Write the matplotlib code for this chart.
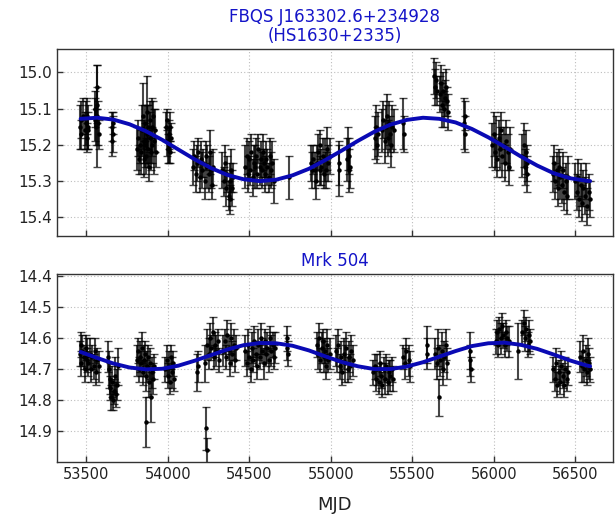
import matplotlib
matplotlib.use("Agg")
import matplotlib.pyplot as plt
import numpy as np

# ---------------- Top panel: FBQS J163302.6+234928 ----------------
mjd_top = [53462, 53466, 53470, 53478, 53490, 53497, 53502, 53505, 53508, 53512,
           53552, 53556, 53560, 53563, 53565, 53568, 53572, 53575,
           53655, 53658, 53661, 53663,
           53810, 53815, 53822, 53830, 53838, 53843, 53848, 53852, 53855, 53858,
           53862, 53866, 53870, 53873, 53876, 53880, 53884, 53888, 53892, 53896,
           53900, 53905, 53910, 53915, 53920, 53925,
           53988, 53992, 53996, 54000, 54004, 54008, 54012, 54016, 54020,
           54155, 54162, 54170, 54178, 54186, 54194, 54202, 54210, 54218, 54226,
           54234, 54242, 54250, 54258, 54265, 54272, 54278,
           54335, 54342, 54350, 54358, 54365, 54372, 54378, 54384, 54390, 54396, 54402,
           54475, 54483, 54490, 54498, 54505, 54512, 54520, 54527, 54534, 54541,
           54548, 54555, 54562, 54569, 54576, 54583, 54590, 54597, 54604, 54611,
           54618, 54625, 54632, 54640, 54648,
           54742,
           54875, 54882, 54888, 54900, 54908, 54915, 54922, 54930, 54936, 54942,
           54950, 54958, 54966, 54972, 54978, 54985, 54992,
           55048, 55052,
           55098, 55103, 55108, 55113, 55118,
           55268, 55274, 55280, 55286,
           55315, 55322, 55330, 55337, 55344, 55350, 55357, 55364, 55370, 55377, 55384,
           55445, 55447,
           55635, 55640, 55645, 55650, 55672, 55678, 55684, 55690, 55696, 55702, 55708, 55714, 55720,
           55818, 55822, 55825,
           55990, 55998, 56005, 56012, 56020, 56028, 56036, 56044, 56052, 56060,
           56068, 56076, 56084, 56092, 56100,
           56175, 56182, 56188, 56194, 56200, 56205,
           56360, 56368, 56376, 56384, 56392, 56400, 56408, 56416, 56424, 56432,
           56440, 56448, 56456,
           56500, 56508, 56516, 56524, 56532, 56540, 56548, 56556, 56564, 56572,
           56580, 56588]
mag_top = [15.15, 15.13, 15.17, 15.12, 15.16, 15.14, 15.18, 15.12, 15.15, 15.16,
           15.13, 15.10, 15.15, 15.04, 15.12, 15.09, 15.14, 15.17,
           15.15, 15.19, 15.17, 15.14,
           15.21, 15.18, 15.24, 15.20, 15.22, 15.16, 15.12, 15.19, 15.24, 15.14,
           15.20, 15.23, 15.17, 15.11, 15.21, 15.15, 15.26, 15.18, 15.13, 15.22,
           15.15, 15.20, 15.12, 15.19, 15.16, 15.22,
           15.15, 15.19, 15.13, 15.21, 15.17, 15.20, 15.15, 15.22, 15.18,
           15.26, 15.23, 15.28, 15.25, 15.22, 15.29, 15.24, 15.27, 15.25, 15.30,
           15.23, 15.26, 15.28, 15.22, 15.27, 15.31, 15.26,
           15.27, 15.30, 15.25, 15.32, 15.28, 15.34, 15.30, 15.35, 15.27, 15.32, 15.29,
           15.26, 15.23, 15.28, 15.24, 15.27, 15.22, 15.29, 15.25, 15.26, 15.23,
           15.28, 15.21, 15.26, 15.24, 15.27, 15.22, 15.25, 15.28, 15.24, 15.26,
           15.29, 15.23, 15.27, 15.25, 15.30,
           15.29,
           15.25, 15.27, 15.24, 15.27, 15.30, 15.25, 15.22, 15.27, 15.20, 15.26,
           15.23, 15.28, 15.24, 15.27, 15.21, 15.25, 15.23,
           15.27, 15.25,
           15.24, 15.21, 15.27, 15.23, 15.26,
           15.18, 15.15, 15.20, 15.17,
           15.16, 15.13, 15.19, 15.15, 15.12, 15.18, 15.14, 15.17, 15.20, 15.15, 15.16,
           15.14, 15.17,
           15.01, 15.04, 15.02, 15.05, 15.06, 15.03, 15.09, 15.05, 15.10, 15.07, 15.04, 15.08, 15.11,
           15.14, 15.17, 15.12,
           15.20, 15.17, 15.22, 15.19, 15.24, 15.18, 15.21, 15.16, 15.23, 15.20,
           15.25, 15.19, 15.22, 15.26, 15.21,
           15.23, 15.20, 15.26, 15.22, 15.28, 15.25,
           15.28, 15.25, 15.30, 15.27, 15.32, 15.26, 15.29, 15.31, 15.27, 15.33,
           15.30, 15.34, 15.29,
           15.30, 15.33, 15.29, 15.35, 15.31, 15.36, 15.32, 15.34, 15.30, 15.37,
           15.33, 15.35]
err_top = [0.06, 0.05, 0.04, 0.05, 0.05, 0.06, 0.04, 0.05, 0.06, 0.05,
           0.06, 0.05, 0.05, 0.06, 0.14, 0.05, 0.06, 0.04,
           0.04, 0.04, 0.05, 0.03,
           0.06, 0.05, 0.04, 0.05, 0.06, 0.07, 0.09, 0.06, 0.05, 0.05,
           0.06, 0.05, 0.08, 0.10, 0.05, 0.06, 0.04, 0.07, 0.05, 0.05,
           0.08, 0.05, 0.04, 0.09, 0.06, 0.04,
           0.04, 0.04, 0.03, 0.04, 0.04, 0.05, 0.04, 0.03, 0.04,
           0.05, 0.04, 0.05, 0.05, 0.04, 0.04, 0.05, 0.05, 0.04, 0.05,
           0.04, 0.06, 0.05, 0.06, 0.05, 0.04, 0.05,
           0.05, 0.04, 0.05, 0.05, 0.05, 0.04, 0.05, 0.04, 0.06, 0.05, 0.04,
           0.06, 0.05, 0.05, 0.05, 0.04, 0.05, 0.05, 0.05, 0.06, 0.05,
           0.04, 0.04, 0.05, 0.05, 0.05, 0.05, 0.04, 0.05, 0.05, 0.05,
           0.04, 0.05, 0.05, 0.06, 0.06,
           0.06,
           0.05, 0.05, 0.04, 0.05, 0.05, 0.05, 0.05, 0.04, 0.04, 0.05,
           0.05, 0.04, 0.06, 0.05, 0.06, 0.05, 0.05,
           0.07, 0.06,
           0.06, 0.06, 0.06, 0.05, 0.06,
           0.06, 0.06, 0.05, 0.06,
           0.06, 0.05, 0.06, 0.06, 0.06, 0.05, 0.06, 0.05, 0.06, 0.06, 0.06,
           0.07, 0.05,
           0.05, 0.05, 0.05, 0.04, 0.05, 0.05, 0.06, 0.05, 0.05, 0.05, 0.05, 0.04, 0.05,
           0.07, 0.05, 0.04,
           0.06, 0.06, 0.05, 0.07, 0.05, 0.05, 0.06, 0.05, 0.06, 0.05,
           0.05, 0.06, 0.05, 0.05, 0.06,
           0.06, 0.06, 0.05, 0.06, 0.05, 0.05,
           0.05, 0.05, 0.05, 0.05, 0.05, 0.05, 0.06, 0.05, 0.05, 0.05,
           0.05, 0.05, 0.06,
           0.05, 0.05, 0.05, 0.05, 0.06, 0.05, 0.05, 0.05, 0.05, 0.05,
           0.05, 0.05]

fit_mjd_top = [53465, 53565, 53665, 53765, 53865, 53965, 54065, 54165, 54265, 54365,
               54465, 54565, 54665, 54765, 54865, 54965, 55065, 55165, 55265, 55365,
               55465, 55565, 55665, 55765, 55865, 55965, 56065, 56165, 56265, 56365,
               56465, 56565, 56590]
fit_mag_top = [15.128, 15.125, 15.130, 15.143, 15.162, 15.186, 15.213, 15.240, 15.264, 15.283,
               15.295, 15.300, 15.296, 15.284, 15.266, 15.242, 15.216, 15.189, 15.164, 15.144,
               15.131, 15.125, 15.128, 15.138, 15.156, 15.179, 15.205, 15.232, 15.257, 15.278,
               15.292, 15.299, 15.300]

# ---------------- Bottom panel: Mrk 504 ----------------
mjd_bot = [53462, 53466, 53470, 53476, 53484, 53490, 53496, 53502, 53506,
           53512, 53520, 53528, 53536, 53545, 53553, 53560, 53568, 53575,
           53630, 53636, 53642, 53648, 53654, 53660, 53666, 53672, 53678, 53684, 53690, 53696,
           53810, 53816, 53822, 53828, 53834, 53840, 53846, 53852, 53858, 53863,
           53866, 53870, 53876, 53882, 53888, 53894, 53900, 53906, 53912,
           53985, 53992, 53998, 54005, 54012, 54018, 54025, 54032, 54040,
           54178, 54182,
           54228, 54235, 54237, 54242, 54250, 54258, 54266, 54274, 54282, 54290, 54298, 54306, 54314,
           54340, 54348, 54356, 54364, 54372, 54380, 54388, 54396, 54404, 54412, 54420,
           54475, 54483, 54491, 54499, 54507, 54515, 54523, 54531, 54539, 54547,
           54555, 54563, 54571, 54579, 54587, 54595, 54603, 54611, 54619, 54627,
           54635, 54643, 54651, 54660,
           54728, 54732, 54736,
           54915, 54922, 54929, 54936, 54943, 54950, 54957, 54964, 54971, 54978, 54985, 54992,
           55030, 55038, 55046, 55054, 55062, 55070, 55078, 55086, 55094, 55102,
           55110, 55118, 55126, 55134,
           55260, 55268, 55276, 55284, 55292, 55300, 55308, 55316, 55324, 55332,
           55340, 55348, 55356, 55364, 55372, 55380,
           55445, 55452, 55460, 55478, 55486,
           55588, 55592,
           55640, 55648, 55656, 55664, 55672, 55680, 55688, 55696, 55704, 55712,
           55852, 55856, 55860,
           56010, 56018, 56026, 56034, 56042, 56050, 56058, 56066, 56074, 56082, 56090,
           56150,
           56175, 56183, 56191, 56199, 56207, 56215, 56223,
           56365, 56373, 56381, 56389, 56397, 56405, 56413, 56421, 56429, 56437, 56445, 56453,
           56530, 56538, 56546, 56554, 56562, 56570, 56578, 56586, 56590]
mag_bot = [14.65, 14.62, 14.68, 14.64, 14.66, 14.70, 14.63, 14.67, 14.65,
           14.68, 14.65, 14.70, 14.66, 14.69, 14.64, 14.71, 14.67, 14.69,
           14.66, 14.70, 14.73, 14.76, 14.79, 14.74, 14.80, 14.77, 14.72, 14.78, 14.75, 14.69,
           14.67, 14.64, 14.70, 14.66, 14.68, 14.63, 14.71, 14.67, 14.65, 14.72,
           14.87, 14.69, 14.66, 14.74, 14.68, 14.79, 14.71, 14.73, 14.69,
           14.70, 14.67, 14.72, 14.69, 14.74, 14.66, 14.71, 14.68, 14.73,
           14.71, 14.69,
           14.68, 14.89, 14.96, 14.62, 14.65, 14.60, 14.63, 14.58, 14.66, 14.62, 14.64, 14.61, 14.67,
           14.64, 14.61, 14.66, 14.59, 14.63, 14.68, 14.60, 14.65, 14.62, 14.67, 14.63,
           14.64, 14.68, 14.62, 14.66, 14.70, 14.63, 14.67, 14.61, 14.65, 14.69,
           14.62, 14.66, 14.60, 14.64, 14.68, 14.61, 14.65, 14.63, 14.67, 14.60,
           14.64, 14.62, 14.66, 14.63,
           14.60, 14.63, 14.65,
           14.62, 14.65, 14.60, 14.67, 14.63, 14.61, 14.66, 14.64, 14.69, 14.62, 14.67, 14.65,
           14.64, 14.67, 14.62, 14.69, 14.66, 14.71, 14.65, 14.68, 14.63, 14.70,
           14.66, 14.69, 14.64, 14.67,
           14.71, 14.69, 14.73, 14.70, 14.74, 14.68, 14.72, 14.75, 14.70, 14.73,
           14.69, 14.74, 14.71, 14.72, 14.70, 14.73,
           14.66, 14.68, 14.64, 14.67, 14.69,
           14.62, 14.65,
           14.65, 14.68, 14.63, 14.79, 14.67, 14.64, 14.70, 14.66, 14.62, 14.68,
           14.64, 14.67, 14.70,
           14.61, 14.58, 14.62, 14.57, 14.60, 14.56, 14.59, 14.62, 14.58, 14.60, 14.61,
           14.64,
           14.58, 14.55, 14.60, 14.57, 14.62, 14.59, 14.61,
           14.70, 14.73, 14.68, 14.75, 14.71, 14.74, 14.69, 14.72, 14.75, 14.70, 14.73, 14.71,
           14.66, 14.69, 14.64, 14.70, 14.67, 14.71, 14.65, 14.68, 14.70]
err_bot = [0.04, 0.04, 0.04, 0.05, 0.04, 0.04, 0.04, 0.04, 0.05,
           0.04, 0.05, 0.04, 0.04, 0.04, 0.04, 0.04, 0.04, 0.05,
           0.05, 0.06, 0.05, 0.04, 0.04, 0.05, 0.03, 0.04, 0.06, 0.04, 0.05, 0.06,
           0.05, 0.04, 0.04, 0.05, 0.04, 0.05, 0.04, 0.05, 0.04, 0.05,
           0.08, 0.05, 0.04, 0.05, 0.05, 0.08, 0.05, 0.05, 0.04,
           0.04, 0.05, 0.04, 0.05, 0.04, 0.04, 0.05, 0.04, 0.04,
           0.06, 0.05,
           0.06, 0.07, 0.04, 0.05, 0.05, 0.05, 0.04, 0.05, 0.04, 0.04, 0.05, 0.04, 0.04,
           0.05, 0.04, 0.04, 0.05, 0.04, 0.04, 0.05, 0.04, 0.05, 0.04, 0.04,
           0.05, 0.04, 0.05, 0.04, 0.04, 0.05, 0.04, 0.05, 0.04, 0.04,
           0.05, 0.04, 0.05, 0.04, 0.05, 0.04, 0.04, 0.05, 0.04, 0.04,
           0.05, 0.04, 0.04, 0.05,
           0.04, 0.04, 0.04,
           0.04, 0.05, 0.05, 0.04, 0.05, 0.04, 0.05, 0.04, 0.04, 0.05, 0.04, 0.05,
           0.05, 0.04, 0.05, 0.04, 0.05, 0.04, 0.05, 0.06, 0.05, 0.04,
           0.05, 0.04, 0.05, 0.05,
           0.04, 0.04, 0.04, 0.05, 0.04, 0.04, 0.04, 0.04, 0.04, 0.05,
           0.04, 0.04, 0.04, 0.05, 0.04, 0.04,
           0.04, 0.05, 0.04, 0.05, 0.05,
           0.06, 0.05,
           0.05, 0.05, 0.06, 0.06, 0.05, 0.06, 0.05, 0.05, 0.05, 0.05,
           0.06, 0.05, 0.04,
           0.04, 0.04, 0.04, 0.04, 0.05, 0.04, 0.04, 0.04, 0.04, 0.04, 0.05,
           0.09,
           0.04, 0.04, 0.04, 0.04, 0.04, 0.05, 0.04,
           0.04, 0.04, 0.05, 0.04, 0.04, 0.04, 0.05, 0.04, 0.04, 0.04, 0.04, 0.04,
           0.05, 0.05, 0.05, 0.04, 0.05, 0.04, 0.05, 0.05, 0.04]

fit_mjd_bot = [53465, 53565, 53665, 53765, 53865, 53965, 54065, 54165, 54265, 54365,
               54465, 54565, 54665, 54765, 54865, 54965, 55065, 55165, 55265, 55365,
               55465, 55565, 55665, 55765, 55865, 55965, 56065, 56165, 56265, 56365,
               56465, 56565, 56590]
fit_mag_bot = [14.644, 14.663, 14.681, 14.694, 14.700, 14.698, 14.688, 14.672, 14.654, 14.636,
               14.622, 14.615, 14.616, 14.624, 14.639, 14.658, 14.676, 14.690, 14.699, 14.699,
               14.691, 14.677, 14.659, 14.641, 14.625, 14.616, 14.614, 14.621, 14.634, 14.652,
               14.671, 14.687, 14.690]

x_ticks = [53500, 54000, 54500, 55000, 55500, 56000, 56500]
top_yticks = [15.0, 15.1, 15.2, 15.3, 15.4]
bot_yticks = [14.4, 14.5, 14.6, 14.7, 14.8, 14.9]

title_top = "FBQS J163302.6+234928\n(HS1630+2335)"
title_bot = "Mrk 504"

TITLE_COLOR = "#1414c8"
FIT_COLOR = "#0a0ab4"

fig = plt.figure(figsize=(6.15, 5.19), dpi=100)
ax1 = fig.add_axes([0.0927, 0.545, 0.904, 0.360])
ax2 = fig.add_axes([0.0927, 0.110, 0.904, 0.362])

def draw(ax, x, y, e, fx, fy, ylim, yticks, title):
    ax.errorbar(x, y, yerr=e, fmt='o', ms=2.2, color='k', mec='k',
                ecolor=(0, 0, 0, 0.72), elinewidth=1.5, capsize=2.6, capthick=1.0,
                zorder=2)
    ax.plot(fx, fy, color=FIT_COLOR, lw=2.8, zorder=3, solid_capstyle='round')
    ax.set_xlim(53320, 56730)
    ax.set_ylim(*ylim)
    ax.set_xticks(x_ticks)
    ax.set_yticks(yticks)
    ax.set_yticklabels([f"{v:.1f}" for v in yticks])
    ax.grid(True, color='#bdbdbd', linestyle=(0, (1, 2)), linewidth=0.8)
    ax.set_axisbelow(True)
    ax.tick_params(direction='in', length=4, width=1, colors='#333333',
                   labelsize=11, labelcolor='#222222')
    for s in ax.spines.values():
        s.set_color('#333333')
        s.set_linewidth(1.0)
    ax.set_title(title, color=TITLE_COLOR, fontsize=12, pad=6, linespacing=1.05)

draw(ax1, mjd_top, mag_top, err_top, fit_mjd_top, fit_mag_top,
     (15.452, 14.936), top_yticks, title_top)
draw(ax2, mjd_bot, mag_bot, err_bot, fit_mjd_bot, fit_mag_bot,
     (14.998, 14.393), bot_yticks, title_bot)

ax1.tick_params(labelbottom=False)
ax2.tick_params(axis='x', labelsize=10.5)
ax2.set_xlabel("MJD", fontsize=13, color='#222222', labelpad=10)

fig.savefig("out.png", dpi=100)
